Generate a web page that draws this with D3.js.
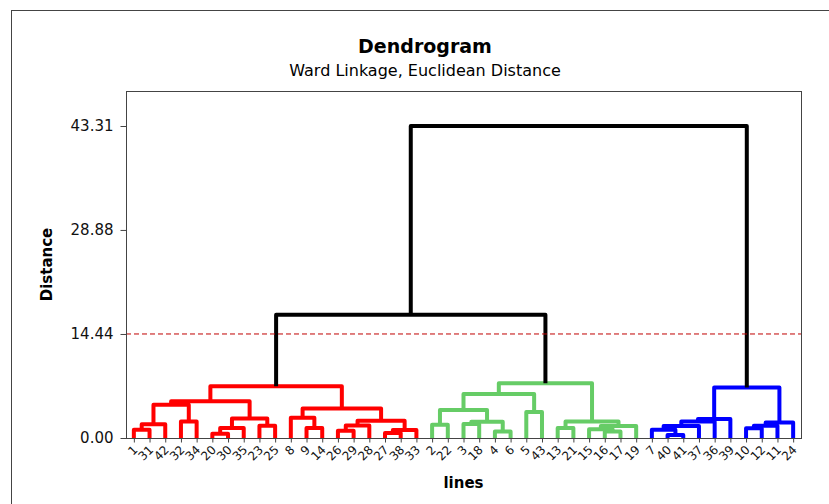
<!DOCTYPE html>
<html>
<head>
<meta charset="utf-8">
<script src="https://cdn.jsdelivr.net/npm/d3@7"></script>
<style>
  body { margin: 0; background: #fff; }
  svg { display: block; font-family: "DejaVu Sans", Verdana, sans-serif; }
</style>
</head>
<body>
<div id="chart"></div>
<script>
'use strict';
// leaf order along the bottom axis
var leaves = ['1', '31', '42', '32', '34', '20', '30', '35', '23', '25', '8', '9', '14', '26', '29', '28', '27', '38', '33',
    '2', '22', '3', '18', '4', '6', '5', '43', '13', '21', '15', '16', '17', '19',
    '7', '40', '41', '37', '36', '39', '10', '12', '11', '24'];

// merges: [left, right, distance]; 'cN' refers to the N-th merge
var merges = [
    ['1', '31', 1.15], ['c0', '42', 1.9], ['32', '34', 2.3], ['c1', 'c2', 4.6],
    ['20', '30', 0.6], ['c4', '35', 1.4], ['23', '25', 1.7], ['c5', 'c6', 2.7],
    ['c3', 'c7', 5.1], ['9', '14', 1.4], ['8', 'c9', 2.8], ['26', '29', 1.0],
    ['c11', '28', 1.75], ['27', '38', 0.7], ['c13', '33', 1.1], ['c12', 'c14', 2.4],
    ['c10', 'c15', 4.1], ['c8', 'c16', 7.2],
    ['2', '22', 1.85], ['3', '18', 1.95], ['4', '6', 0.9], ['c19', 'c20', 2.25],
    ['c18', 'c21', 3.9], ['5', '43', 3.6], ['c22', 'c23', 6.1], ['13', '21', 1.4],
    ['16', '17', 0.9], ['15', 'c26', 1.2], ['c27', '19', 1.65], ['c25', 'c28', 2.3],
    ['c24', 'c29', 7.6],
    ['40', '41', 0.4], ['7', 'c31', 1.15], ['c32', '37', 1.65], ['c33', '36', 2.3],
    ['c34', '39', 2.65], ['10', '12', 1.35], ['c36', '11', 1.7], ['c37', '24', 2.15],
    ['c35', 'c38', 7.0],
    ['c17', 'c30', 17.1], ['c40', 'c39', 43.31]
];

var yTicks = [0, 14.44, 28.88, 43.31];
var cutHeight = 14.44;
var clusterColors = ['#ff0000', '#66cc66', '#0000ff'];

var width = 829,
    height = 504,
    plotLeft = 126, plotRight = 801, plotTop = 91, plotBottom = 438;

var svg = d3.select('#chart').append('svg')
    .attr('width', width)
    .attr('height', height);

// outer frame
svg.append('rect')
    .attr('x', 11.5).attr('y', 10.5)
    .attr('width', 830).attr('height', 510)
    .attr('fill', 'none').attr('stroke', '#444');

var x = d3.scalePoint().domain(leaves).range([plotLeft, plotRight]).padding(0.5);
var y = d3.scaleLinear().domain([0, 43.31]).range([plotBottom, 126]);

// build nodes from merges
var nodes = {};
leaves.forEach(function (l) {
    nodes[l] = {id: l, x: x(l), h: 0};
});
merges.forEach(function (m, i) {
    var a = nodes[m[0]], b = nodes[m[1]];
    var n = {id: 'c' + i, left: a, right: b, h: m[2], x: (a.x + b.x) / 2};
    nodes[n.id] = n;
});
var root = nodes['c' + (merges.length - 1)];

// colour clusters below the cut, left to right
var clusterIndex = 0;
(function paint(n, color) {
    if (!n.left) return;
    if (!color && n.h < cutHeight) {
        color = clusterColors[clusterIndex++];
    }
    n.color = color || '#000';
    paint(n.left, color);
    paint(n.right, color);
})(root, null);

var internal = merges.map(function (m, i) { return nodes['c' + i]; });

svg.append('g').attr('class', 'links')
    .selectAll('path')
    .data(internal)
    .enter().append('path')
    .attr('d', function (n) {
        return 'M' + n.left.x + ',' + y(n.left.h) +
            'V' + y(n.h) + 'H' + n.right.x + 'V' + y(n.right.h);
    })
    .attr('fill', 'none')
    .attr('stroke', function (n) { return n.color; })
    .attr('stroke-width', 4)
    .attr('stroke-linejoin', 'round');

// cut line
svg.append('line')
    .attr('x1', plotLeft).attr('x2', plotRight)
    .attr('y1', y(cutHeight)).attr('y2', y(cutHeight))
    .attr('stroke', '#c00000')
    .attr('stroke-width', 1)
    .attr('stroke-dasharray', '5,3');

// plot frame
svg.append('rect')
    .attr('x', plotLeft + 0.5).attr('y', plotTop + 0.5)
    .attr('width', plotRight - plotLeft).attr('height', plotBottom - plotTop)
    .attr('fill', 'none').attr('stroke', '#444');

var yAxis = svg.append('g')
    .attr('transform', 'translate(' + (plotLeft + 0.5) + ',0)')
    .call(d3.axisLeft(y).tickValues(yTicks).tickFormat(d3.format('.2f')).tickSize(6).tickPadding(7));
yAxis.select('.domain').remove();
yAxis.selectAll('line').attr('stroke', '#444');
yAxis.selectAll('text').attr('font-size', 15).attr('fill', '#111')
    .style('font-family', '"DejaVu Sans", Verdana, sans-serif');

var xAxis = svg.append('g')
    .attr('transform', 'translate(0,' + (plotBottom + 0.5) + ')')
    .call(d3.axisBottom(x).tickSize(4));
xAxis.select('.domain').remove();
xAxis.selectAll('line').attr('stroke', '#444');
xAxis.selectAll('text')
    .attr('font-size', 12).attr('fill', '#111')
    .style('font-family', '"DejaVu Sans", Verdana, sans-serif')
    .attr('text-anchor', 'end')
    .attr('x', 0).attr('y', 0).attr('dy', 0)
    .attr('transform', 'translate(4,12) rotate(-45)');

// titles
svg.append('text')
    .attr('x', 425).attr('y', 53)
    .attr('text-anchor', 'middle')
    .attr('font-size', 19).attr('font-weight', 'bold')
    .text('Dendrogram');
svg.append('text')
    .attr('x', 425).attr('y', 76)
    .attr('text-anchor', 'middle')
    .attr('font-size', 16)
    .text('Ward Linkage, Euclidean Distance');
svg.append('text')
    .attr('x', (plotLeft + plotRight) / 2).attr('y', 488)
    .attr('text-anchor', 'middle')
    .attr('font-size', 15).attr('font-weight', 'bold')
    .text('lines');
svg.append('text')
    .attr('transform', 'translate(52,' + ((plotTop + plotBottom) / 2) + ') rotate(-90)')
    .attr('text-anchor', 'middle')
    .attr('font-size', 15).attr('font-weight', 'bold')
    .text('Distance');
</script>
</body>
</html>
